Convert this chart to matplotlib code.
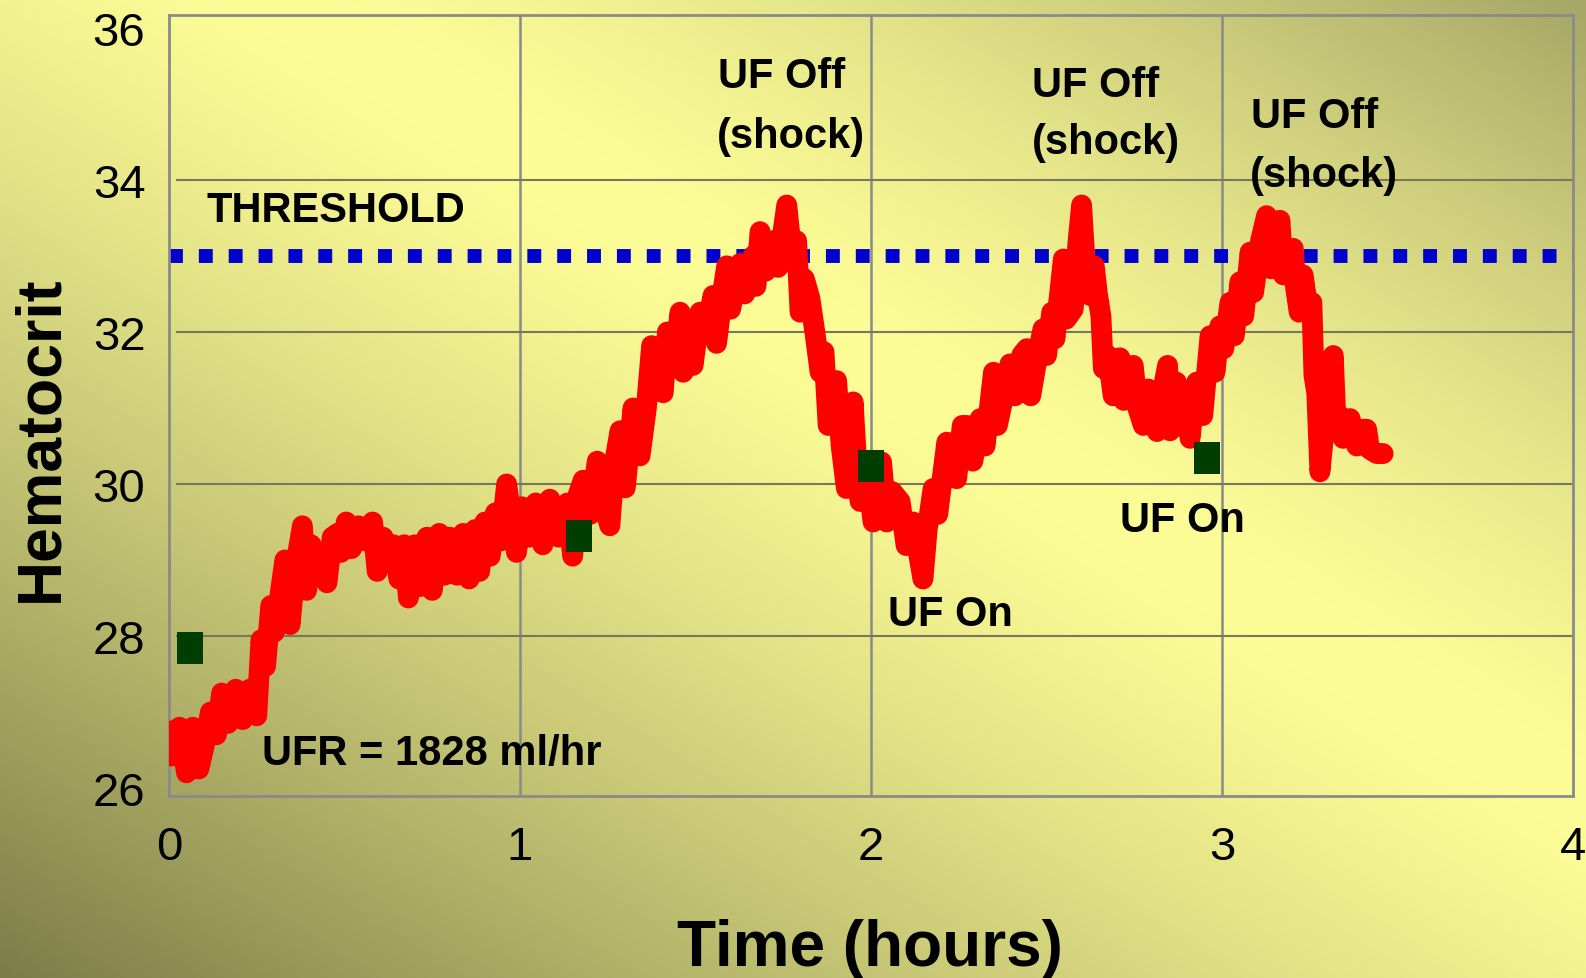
import numpy as np
import matplotlib
matplotlib.use("Agg")
import matplotlib.pyplot as plt
from matplotlib.path import Path

plt.rcParams['font.family'] = ['Liberation Sans', 'DejaVu Sans']

# ---------------- data ----------------
time_h = [0.004, 0.008, 0.030, 0.050, 0.068, 0.085, 0.100, 0.118, 0.135, 0.150, 0.168, 0.190, 0.210, 0.230,
          0.250, 0.262, 0.275, 0.290, 0.300, 0.315, 0.330, 0.345, 0.360, 0.380, 0.392, 0.405, 0.420, 0.435,
          0.450, 0.465, 0.480, 0.490, 0.505, 0.520, 0.540, 0.560, 0.580, 0.593, 0.610, 0.625, 0.640, 0.655,
          0.670, 0.682, 0.700, 0.715, 0.735, 0.750, 0.770, 0.785, 0.800, 0.820, 0.838, 0.855, 0.872, 0.885,
          0.900, 0.915, 0.930, 0.945, 0.962, 0.975, 0.990, 1.005, 1.025, 1.045, 1.065, 1.085, 1.110, 1.135,
          1.150, 1.165, 1.180, 1.200, 1.220, 1.240, 1.256, 1.270, 1.285, 1.300, 1.322, 1.335,
          1.342, 1.360, 1.375, 1.390, 1.408, 1.420, 1.440, 1.456, 1.465, 1.480, 1.493, 1.513, 1.530, 1.550,
          1.560, 1.580, 1.589, 1.600, 1.627, 1.640, 1.664, 1.672, 1.684, 1.700, 1.721, 1.735, 1.760, 1.775,
          1.788, 1.798, 1.810, 1.826, 1.840, 1.855, 1.866, 1.878, 1.902, 1.915, 1.930, 1.949, 1.960, 1.969,
          1.985, 2.006, 2.030, 2.045, 2.060, 2.083, 2.100, 2.120, 2.148, 2.160, 2.177, 2.190, 2.216, 2.230,
          2.244, 2.260,
          2.273, 2.290, 2.311, 2.325, 2.349, 2.360, 2.380, 2.396, 2.410, 2.430, 2.444, 2.455, 2.475, 2.490,
          2.500, 2.515, 2.524, 2.535, 2.548, 2.556, 2.576, 2.590, 2.600, 2.610, 2.624, 2.636, 2.645, 2.655,
          2.662, 2.675, 2.690, 2.709, 2.720, 2.735, 2.747, 2.760, 2.776, 2.790, 2.804, 2.815, 2.830, 2.845,
          2.852, 2.870, 2.880, 2.895, 2.909, 2.918, 2.928, 2.945, 2.966, 2.980, 2.994, 3.005, 3.023, 3.035,
          3.051, 3.062, 3.080, 3.090, 3.110, 3.127, 3.140, 3.155, 3.165, 3.175, 3.190, 3.203, 3.210, 3.220,
          3.231, 3.245, 3.256, 3.262, 3.270, 3.279, 3.295, 3.310, 3.317, 3.325, 3.335, 3.345, 3.365, 3.384,
          3.400, 3.412, 3.420, 3.441, 3.459]
hematocrit = [26.75, 26.42, 26.80, 26.20, 26.80, 26.25, 26.55, 27.00, 26.70, 27.25, 26.85, 27.30, 26.90, 27.30,
              26.95, 27.95, 27.60, 28.40, 28.05, 28.50, 29.00, 28.15, 28.90, 29.45, 28.60, 29.20, 28.95, 29.10,
              28.70, 29.30, 29.35, 29.10, 29.50, 29.15, 29.45, 29.25, 29.50, 28.85, 29.30, 29.10, 29.20, 28.75,
              29.20, 28.50, 29.20, 28.65, 29.30, 28.60, 29.35, 28.80, 29.30, 28.80, 29.35, 28.75, 29.40, 28.85,
              29.50, 29.05, 29.62, 29.25, 30.00, 29.55, 29.10, 29.70, 29.30, 29.75, 29.20, 29.80, 29.30, 29.75,
              29.05, 29.85, 30.05, 29.60, 30.30, 29.70, 29.45, 30.30, 30.70, 29.95, 31.00, 30.40,
              30.37, 31.00, 31.82, 31.30, 31.20, 32.00, 31.60, 32.26, 31.47, 32.00, 31.56, 32.26, 32.00, 32.48,
              31.85, 32.60, 32.87, 32.30, 32.90, 32.50, 33.00, 32.60, 33.32, 32.80, 33.20, 32.85, 33.67, 33.00,
              33.20, 32.26, 32.70, 32.44, 32.00, 31.47, 31.74, 30.77, 31.36, 30.50, 29.94, 31.08, 30.20, 29.77,
              30.30, 29.50, 30.29, 29.50, 29.90, 29.77, 29.19, 29.50, 28.75, 29.40, 29.94, 29.60, 30.55, 30.10,
              30.07, 30.77,
              30.77, 30.30, 30.86, 30.50, 31.47, 30.77, 31.20, 31.58, 31.16, 31.70, 31.78, 31.16, 31.70, 32.04,
              31.69, 32.26, 31.91, 32.40, 32.96, 32.17, 32.30, 33.20, 33.67, 32.90, 32.48, 32.87, 32.50, 32.21,
              31.52, 31.69, 31.16, 31.66, 31.10, 31.30, 31.56, 31.00, 30.77, 31.25, 31.00, 30.69, 31.20, 31.56,
              30.70, 31.34, 30.77, 31.10, 30.60, 31.00, 31.34, 30.90, 31.95, 31.47, 32.08, 31.78, 32.39, 31.95,
              32.66, 32.21, 33.05, 32.52, 33.20, 33.53, 32.83, 33.00, 33.47, 32.75, 32.90, 33.10, 32.57, 32.26,
              32.75, 32.30, 32.39, 31.43, 31.20, 30.16, 30.90, 31.50, 31.69, 30.77, 30.90, 30.60, 30.86, 30.50,
              30.72, 30.72, 30.46, 30.40, 30.40]

marker_time = [0.060, 1.168, 2.000, 2.957]
marker_hct = [27.84, 29.32, 30.23, 30.34]

threshold = 33.0
x_ticks = [0, 1, 2, 3, 4]
y_ticks = [26, 28, 30, 32, 34, 36]

# ---------------- figure ----------------
W, H = 1586, 979
fig = plt.figure(figsize=(W / 100, H / 100), dpi=100)

# background gradient
gh, gw = 245, 397
yy, xx = np.mgrid[0:gh, 0:gw]
xn = xx / (gw - 1)
yup = 1 - yy / (gh - 1)
p = (xn + yup) / 2.0
bright = np.array([255, 255, 153]) / 255.0
dark_bl = np.array([124, 124, 72]) / 255.0
dark_tr = np.array([166, 166, 102]) / 255.0
f1 = np.clip((0.6 - p) / 0.6, 0, 1) ** 1.3
f2 = np.clip((p - 0.56) / 0.44, 0, 1) ** 1.5
img = bright[None, None, :] * np.ones((gh, gw, 3))
img = img * (1 - f1[..., None]) + dark_bl[None, None, :] * f1[..., None]
img = img * (1 - f2[..., None]) + dark_tr[None, None, :] * f2[..., None]
bg = fig.add_axes([0, 0, 1, 1], zorder=-10)
bg.imshow(img, aspect='auto', interpolation='bilinear', extent=[0, 1, 0, 1])
bg.set_axis_off()

ax = fig.add_axes([169 / W, 1 - 797 / H, (1573 - 169) / W, (797 - 16) / H])
ax.set_facecolor('none')
ax.set_xlim(0, 4)
ax.set_ylim(25.895, 36.17)

for s in ax.spines.values():
    s.set_color('#8a8a8a')
    s.set_linewidth(2)

# grid
for x in [1, 2, 3]:
    ax.axvline(x, color='#8a8a8a', lw=1.8, zorder=1)
for y in [28, 30, 32, 34]:
    ax.axhline(y, xmin=0.006, color='#78785c', lw=1.5, zorder=1)

ax.set_xticks(x_ticks)
ax.set_yticks(y_ticks)
ax.set_xticklabels([str(v) for v in x_ticks], fontsize=34)
ax.set_yticklabels([str(v) for v in y_ticks], fontsize=34)
ax.tick_params(axis='both', length=0)
ax.tick_params(axis='y', pad=17)
ax.tick_params(axis='x', pad=21)

# threshold line
ax.plot([0, 4], [threshold, threshold], color='#0000CC', lw=10,
        dashes=(1.0, 1.15), dash_capstyle='butt', zorder=2)

# hematocrit trace
ax.plot(time_h, hematocrit, color='#FF0000', lw=15,
        solid_capstyle='round', solid_joinstyle='round', zorder=3)

# markers
rect = Path([(-0.42, -0.5), (0.42, -0.5), (0.42, 0.5), (-0.42, 0.5), (-0.42, -0.5)],
            [Path.MOVETO, Path.LINETO, Path.LINETO, Path.LINETO, Path.CLOSEPOLY])
ax.plot(marker_time, marker_hct, linestyle='none', marker=rect, markersize=23,
        color='#003D00', markeredgewidth=0, zorder=4)

# annotations
tk = dict(fontsize=30, fontweight='bold', color='black', va='baseline', ha='left', zorder=5)
ax.text(0.108, 33.46, 'THRESHOLD', **tk)
ax.text(1.564, 35.22, 'UF Off', **tk)
ax.text(1.561, 34.43, '(shock)', **tk)
ax.text(2.459, 35.11, 'UF Off', **tk)
ax.text(2.459, 34.36, '(shock)', **tk)
ax.text(3.083, 34.70, 'UF Off', **tk)
ax.text(3.080, 33.92, '(shock)', **tk)
ax.text(2.048, 28.14, 'UF On', **tk)
ax.text(2.709, 29.38, 'UF On', **tk)
ax.text(0.265, 26.32, 'UFR = 1828 ml/hr', **tk)

# axis titles
fig.text(870 / W, 1 - 966 / H, 'Time (hours)', fontsize=46, fontweight='bold',
         ha='center', va='baseline')
fig.text(57 / W, 1 - 439 / H, 'Hematocrit', fontsize=45, fontweight='bold',
         ha='center', va='baseline', rotation=90, rotation_mode='anchor')

fig.savefig('out.png', dpi=100)
